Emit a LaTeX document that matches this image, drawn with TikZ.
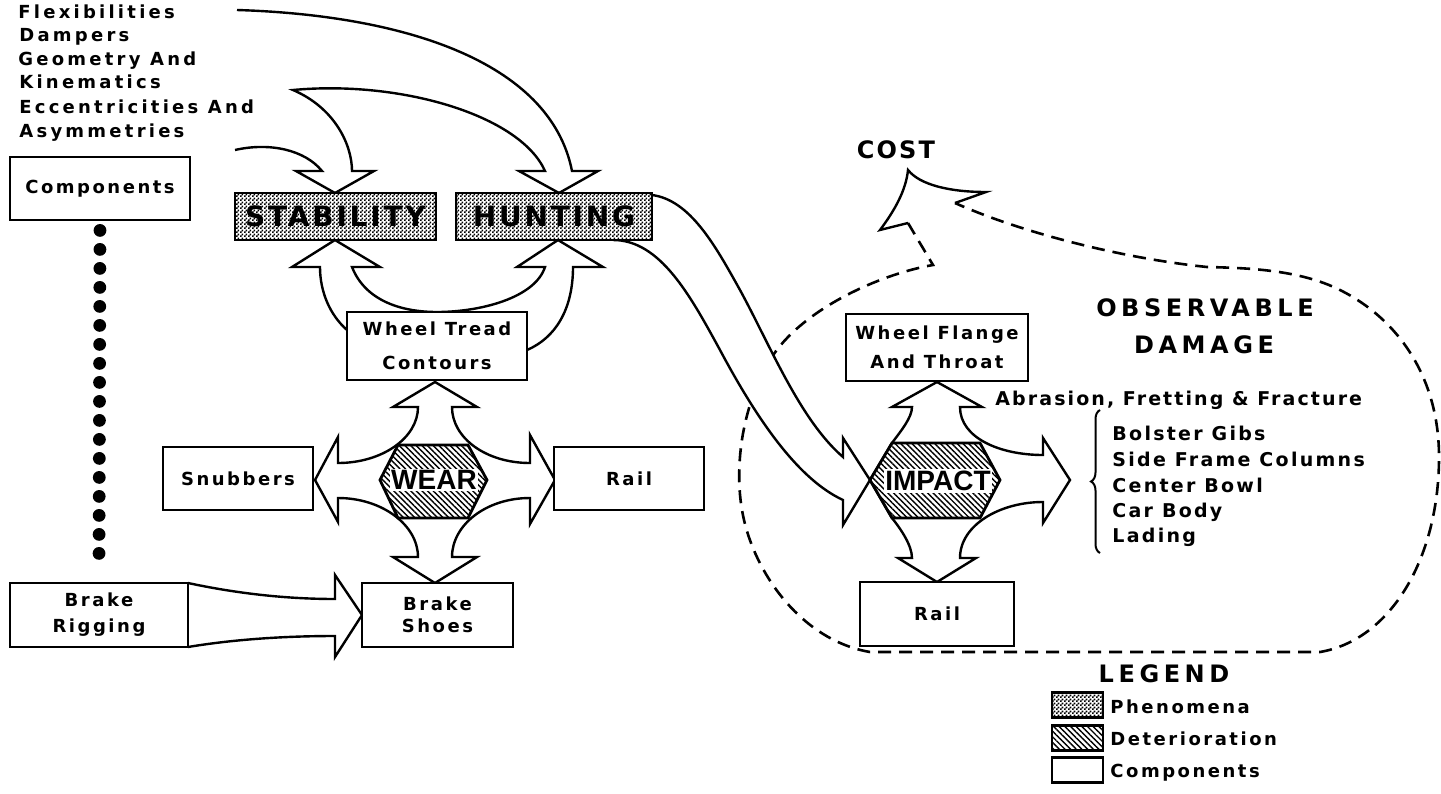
\documentclass[tikz,border=0pt]{standalone}
\usepackage{fontspec}
\setmainfont{DejaVu Sans}
\newfontfamily\bodyf{DejaVu Sans}[LetterSpace=14]
\newfontfamily\leftf{DejaVu Sans}[LetterSpace=18]
\newfontfamily\listf{DejaVu Sans}[LetterSpace=12]
\newfontfamily\abrf{DejaVu Sans}[LetterSpace=11]
\newfontfamily\titf{DejaVu Sans}[LetterSpace=19]
\newfontfamily\costf{DejaVu Sans}[LetterSpace=9]
\newfontfamily\phenf{DejaVu Sans}[LetterSpace=10]
\newfontfamily\detf{Liberation Sans}
\usetikzlibrary{patterns,patterns.meta,decorations.pathreplacing,calc}

\pgfdeclarepatternformonly{stipple}{\pgfpointorigin}{\pgfpoint{2pt}{2pt}}{\pgfpoint{2pt}{2pt}}{%
  \pgfpathrectangle{\pgfpointorigin}{\pgfpoint{1pt}{1pt}}%
  \pgfpathrectangle{\pgfpoint{1pt}{1pt}}{\pgfpoint{1pt}{1pt}}%
  \pgfusepath{fill}}

\tikzset{
  box/.style={draw, line width=1.4pt, fill=white, inner sep=0pt, align=center,
     font=\bodyf\bfseries\fontsize{9}{13}\selectfont},
  phen/.style={draw, line width=1.4pt, preaction={fill=white}, pattern=stipple, inner sep=0pt},
  flow/.style={line width=1.2pt, line join=miter, miter limit=20},
  hexdet/.style={draw, line width=1.4pt, line join=miter, preaction={fill=white},
     pattern={Lines[angle=-45,distance=2pt,line width=0.7pt]}},
  dashb/.style={line width=1.3pt, dash pattern=on 6.5pt off 4pt},
  dotline/.style={line width=6.4pt, line cap=round, dash pattern=on 0pt off 9.5pt},
  lefttxt/.style={anchor=base west, inner sep=0pt, font=\leftf\bfseries\fontsize{9}{11}\selectfont},
  listtxt/.style={anchor=base west, inner sep=0pt, font=\listf\bfseries\fontsize{9.5}{11}\selectfont},
  legtxt/.style={anchor=base west, inner sep=0pt, font=\bodyf\bfseries\fontsize{9}{11}\selectfont},
  title/.style={inner sep=0pt, font=\titf\bfseries\fontsize{12}{14}\selectfont},
  phentxt/.style={inner sep=0pt, font=\phenf\bfseries\fontsize{14}{16}\selectfont},
  dettxt/.style={fill=white, inner xsep=0.5pt, inner ysep=0.8pt, font=\detf\bfseries\fontsize{14}{16}\selectfont},
  swatch/.style={draw, line width=1.3pt, minimum width=25.5pt, minimum height=12.5pt, inner sep=0pt}
}

\begin{document}
\begin{tikzpicture}[x=0.5pt,y=-0.5pt]
\useasboundingbox (0,0) rectangle (1441,793);
\fill[white] (0,0) rectangle (1441,793);

% dashed boundary of observable damage, leading to COST
\draw[dashb] (908,223) -- (933,265) .. controls (880,274) and (800,310) .. (770,360)
  .. controls (740,410) and (735,470) .. (742,510) .. controls (752,570) and (800,640) .. (870,652)
  -- (1320,652) .. controls (1390,640) and (1438,560) .. (1439,460)
  .. controls (1440,380) and (1400,320) .. (1340,290) .. controls (1300,270) and (1250,268) .. (1207,267)
  .. controls (1120,258) and (1020,232) .. (955,203);
% cost arrow head
\draw[flow] (908,223) -- (880,230) .. controls (895,210) and (906,190) .. (908,170)
  .. controls (920,185) and (950,192) .. (986,192) -- (955,203);

% fork flow from parameters into STABILITY and HUNTING
\draw[flow] (235,150) .. controls (270,142) and (305,150) .. (322,171) -- (296,171) -- (335,193) -- (374,171) -- (352,171)
  .. controls (352,145) and (335,108) .. (293,90) .. controls (400,80) and (520,115) .. (545,171)
  -- (519,171) -- (559,193) -- (598,171) -- (572,171) .. controls (550,60) and (400,15) .. (237,10);

% arrows from wheel tread contours up to STABILITY and HUNTING
\draw[flow] (347,330) .. controls (330,315) and (320,292) .. (320,267) -- (292,267) -- (335,240) -- (380,267) -- (352,267)
  .. controls (365,300) and (400,312) .. (437,312) .. controls (480,312) and (535,298) .. (545,267)
  -- (517,267) -- (558,240) -- (603,267) -- (573,267) .. controls (573,310) and (555,338) .. (527,350);

% brake rigging to brake shoes
\draw[flow] (188,583) .. controls (230,592) and (280,599) .. (335,599) -- (335,575) -- (362,615) -- (335,657) -- (335,636)
  .. controls (280,636) and (230,640) .. (188,647);

% hunting to impact
\fill[white] (652,195) .. controls (690,200) and (715,245) .. (740,290) .. controls (770,345) and (800,420) .. (843,457)
  -- (843,438) -- (870,480) -- (843,525) -- (843,500) .. controls (800,480) and (760,425) .. (720,350)
  .. controls (690,295) and (660,240) .. (613,240) -- (652,240) -- cycle;
\draw[flow] (652,195) .. controls (690,200) and (715,245) .. (740,290) .. controls (770,345) and (800,420) .. (843,457)
  -- (843,438) -- (870,480) -- (843,525) -- (843,500) .. controls (800,480) and (760,425) .. (720,350)
  .. controls (690,295) and (660,240) .. (613,240);

% WEAR four-way arrow
\filldraw[flow, fill=white] (435,382) -- (477,407) -- (452,407) .. controls (452,438) and (486,463) .. (530,463)
  -- (530,435) -- (555,480) -- (530,524) -- (530,498) .. controls (486,498) and (452,525) .. (452,557)
  -- (477,557) -- (435,583) -- (393,557) -- (418,557) .. controls (418,525) and (382,498) .. (338,498)
  -- (338,522) -- (315,480) -- (338,437) -- (338,463) .. controls (382,463) and (418,438) .. (418,407)
  -- (393,407) -- cycle;
\path[hexdet] (380,480) -- (398,445) -- (468,445) -- (487,480) -- (468,518) -- (398,518) -- cycle;
\node[dettxt] (wear) at (434,480) {WEAR};

% IMPACT three-way arrow
\filldraw[flow, fill=white] (937,382) -- (982,407) -- (960,407) .. controls (960,438) and (1000,455) .. (1043,455)
  -- (1043,438) -- (1070,480) -- (1043,523) -- (1043,502) .. controls (1000,502) and (960,525) .. (960,558)
  -- (976,558) -- (937,582) -- (898,558) -- (912,558) .. controls (912,545) and (900,528) .. (892,518)
  -- (870,480) -- (892,443) .. controls (900,432) and (912,418) .. (912,407) -- (892,407) -- cycle;
\path[hexdet] (870,480) -- (892,443) -- (980,443) -- (1000,480) -- (980,518) -- (892,518) -- cycle;
\node[dettxt] (impact) at (938,481) {IMPACT};

% boxes
\node[box, minimum width=90pt, minimum height=31.5pt] (comp) at (100,188.5) {Components};
\node[box, minimum width=89pt, minimum height=32pt] (rig) at (99,615) {Brake\\Rigging};
\node[box, minimum width=75pt, minimum height=31.5pt] (snub) at (238,478.5) {Snubbers};
\node[box, minimum width=75pt, minimum height=31.5pt] (railL) at (629,478.5) {Rail};
\node[box, minimum width=90pt, minimum height=34pt] (wtc) at (437,346) {Wheel Tread\\[4pt]Contours};
\node[box, minimum width=75.5pt, minimum height=32pt] (shoes) at (437.5,615) {Brake\\[-2pt]Shoes};
\node[box, minimum width=91pt, minimum height=33.5pt] (wfat) at (937,347.5) {Wheel Flange\\[1.5pt]And Throat};
\node[box, minimum width=77pt, minimum height=32pt] (railR) at (937,614) {Rail};
\node[phen, minimum width=100.5pt, minimum height=23.5pt] (stab) at (335.5,216.5) {};
\node[phen, minimum width=98pt, minimum height=23.5pt] (hunt) at (554,216.5) {};
\node[phentxt] (stabt) at (stab) {STABILITY};
\node[phentxt] (huntt) at (hunt) {HUNTING};

% dotted link
\coordinate (d1) at ($(comp.south)+(0,9)$);
\coordinate (d2) at ($(rig.north)+(0,-11.5)$);
\draw[dotline] (d1) -- (d2);

% parameter list
\node[lefttxt] (p1) at (18,18) {Flexibilities};
\node[lefttxt] (p2) at (19,41) {Dampers};
\node[lefttxt] (p3) at (18,65) {Geometry And};
\node[lefttxt] (p4) at (19,88) {Kinematics};
\node[lefttxt] (p5) at (19,113) {Eccentricities And};
\node[lefttxt] (p6) at (19,137) {Asymmetries};

% titles
\node[inner sep=0pt, font=\costf\bfseries\fontsize{12}{14}\selectfont] (cost) at (896,150) {COST};
\node[title] (obs) at (1205,308) {OBSERVABLE};
\node[title] (dam) at (1204,345) {DAMAGE};

\node[anchor=base west, inner sep=0pt, font=\abrf\bfseries\fontsize{9.5}{11}\selectfont] (abr) at (995,405) {Abrasion, Fretting \& Fracture};
\draw[line width=1pt, decorate, decoration={brace, amplitude=4.5pt}] (1100,553) -- (1100,410);
\node[listtxt] (l1) at (1112,440) {Bolster Gibs};
\node[listtxt] (l2) at (1112,466) {Side Frame Columns};
\node[listtxt] (l3) at (1112,492) {Center Bowl};
\node[listtxt] (l4) at (1112,517) {Car Body};
\node[listtxt] (l5) at (1112,542) {Lading};

% legend
\node[title] (leg) at (1164,674) {LEGEND};
\node[swatch, preaction={fill=white}, pattern=stipple] (sw1) at (1077.5,705) {};
\node[swatch, preaction={fill=white}, pattern={Lines[angle=-45,distance=2pt,line width=0.7pt]}] (sw2) at (1077.5,738) {};
\node[swatch, fill=white] (sw3) at (1077.5,770) {};
\node[legtxt] (lg1) at (1110,713) {Phenomena};
\node[legtxt] (lg2) at (1110,745) {Deterioration};
\node[legtxt] (lg3) at (1110,777) {Components};
\end{tikzpicture}
\end{document}
